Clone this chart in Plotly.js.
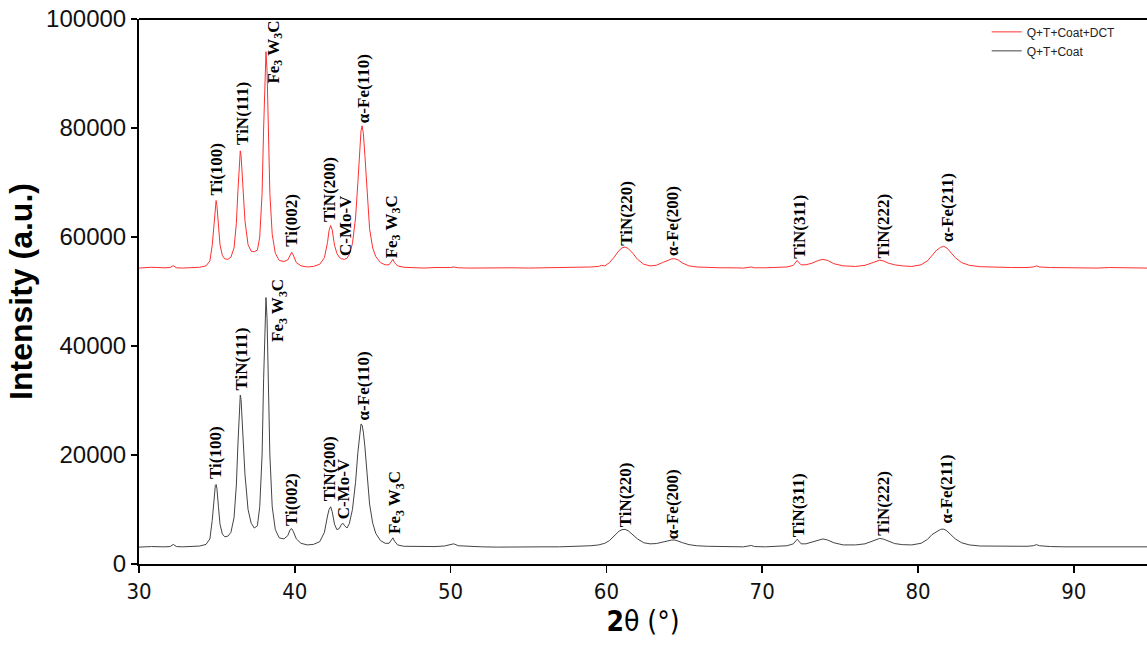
<!DOCTYPE html>
<html>
<head>
<meta charset="utf-8">
<script src="https://cdn.plot.ly/plotly-3.0.1.min.js"></script>
<style>html,body{margin:0;padding:0;background:#fff;}#chart{width:1147px;height:646px;}</style>
</head>
<body>
<div id="chart"></div>
<script>
// 2θ grid (degrees)
const twoTheta = [
  30, 30.8, 31.6, 32.0, 32.2, 32.4, 32.8, 33.4, 33.9, 34.3,
  34.55, 34.7, 34.8, 34.9, 34.95, 35.0, 35.1, 35.2, 35.35, 35.5,
  35.7, 35.9, 36.1, 36.25, 36.35, 36.45, 36.5, 36.55, 36.65, 36.8,
  37.0, 37.2, 37.4, 37.6, 37.75, 37.9, 38.0, 38.08, 38.15, 38.22,
  38.3, 38.4, 38.55, 38.75, 39.0, 39.3, 39.55, 39.7, 39.8, 39.9,
  40.1, 40.4, 40.8, 41.2, 41.6, 41.9, 42.1, 42.2, 42.3, 42.4,
  42.55, 42.7, 42.85, 43.0, 43.1, 43.2, 43.35, 43.5, 43.7, 43.9,
  44.05, 44.15, 44.25, 44.32, 44.4, 44.5, 44.65, 44.8, 45.0, 45.2,
  45.5, 45.8, 46.05, 46.2, 46.3, 46.4, 46.6, 47.0, 47.6, 48.3,
  49.0, 49.6, 50.0, 50.2, 50.5, 51.2, 52.0, 53.0, 54.0, 55.0,
  56.0, 57.0, 58.0, 59.0, 59.5, 59.7, 59.9, 60.2, 60.5, 60.8,
  61.0, 61.2, 61.4, 61.7, 62.0, 62.4, 62.8, 63.2, 63.6, 63.9,
  64.2, 64.4, 64.6, 64.9, 65.3, 65.8, 66.5, 67.3, 68.0, 68.8,
  69.3, 69.5, 70.2, 71.0, 71.6, 72.0, 72.15, 72.25, 72.35, 72.5,
  72.8, 73.2, 73.6, 73.9, 74.2, 74.6, 75.2, 76.0, 76.6, 77.0,
  77.3, 77.55, 77.8, 78.1, 78.5, 79.0, 79.6, 80.2, 80.6, 80.9,
  81.2, 81.45, 81.65, 81.85, 82.1, 82.4, 82.8, 83.3, 84.0, 85.0,
  86.0, 87.0, 87.4, 87.6, 87.8, 88.5, 89.5, 90.5, 91.5, 92.3,
  93.2, 94.0, 94.7
];

// Q+T+Coat+DCT intensity (a.u.)
const intensityDCT = [
  54300, 54450, 54350, 54400, 54750, 54350, 54300, 54400, 54450, 54700,
  55600, 58500, 62500, 66300, 66700, 65800, 62000, 58600, 56600, 56000,
  55900, 56300, 58000, 62500, 68500, 74500, 75800, 75000, 70500, 63000,
  58600, 57400, 57300, 57600, 60000, 68000, 80000, 90000, 94000, 90500,
  80000, 68000, 60500, 57000, 55700, 55500, 55800, 56800, 57200, 56700,
  55300, 54700, 54500, 54600, 55000, 56200, 59000, 61200, 62100, 61300,
  58500, 57000, 56300, 56000, 55900, 55900, 56100, 56800, 58800, 63500,
  70000, 75500, 79500, 80400, 79000, 75000, 67500, 61500, 58000, 56400,
  55300, 54900, 54900, 55500, 55900, 55300, 54700, 54450, 54400, 54300,
  54400, 54350, 54400, 54500, 54350, 54300, 54350, 54300, 54350, 54300,
  54350, 54300, 54400, 54500, 54600, 54800, 54700, 55300, 56300, 57500,
  58000, 58150, 57900, 57000, 55900, 55000, 54700, 54800, 55300, 55700,
  56000, 56000, 55800, 55200, 54700, 54500, 54400, 54350, 54350, 54300,
  54500, 54350, 54350, 54400, 54500, 54800, 55400, 55700, 55300, 54900,
  54900, 55200, 55700, 55900, 55700, 55100, 54700, 54600, 54800, 55200,
  55550, 55750, 55600, 55200, 54900, 54700, 54600, 54900, 55600, 56700,
  57600, 58100, 58300, 58000, 57200, 56200, 55300, 54800, 54550, 54450,
  54400, 54400, 54500, 54700, 54500, 54400, 54350, 54350, 54300, 54400,
  54350, 54350, 54300
];

// Q+T+Coat intensity (a.u.)
const intensityCoat = [
  3100, 3200, 3150, 3200, 3600, 3200, 3150, 3200, 3300, 3600,
  4600, 8000, 11800, 14400, 14600, 13900, 10500, 7300, 5500, 5000,
  5100, 5800, 8500, 14500, 22000, 30000, 31000, 30200, 25000, 16500,
  10000, 7500, 6600, 7000, 10500, 20000, 34000, 45000, 48900, 45000,
  33000, 20000, 10500, 6300, 4800, 4600, 5200, 6300, 6500, 6000,
  4600, 3800, 3500, 3600, 4100, 5800, 8800, 10000, 10500, 9600,
  7300, 6300, 6500, 7300, 7450, 7000, 6600, 7400, 10000, 15000,
  20500, 23800, 25700, 25500, 24200, 21500, 16000, 11000, 7500, 5600,
  4300, 3800, 3800, 4500, 4800, 4200, 3500, 3250, 3200, 3150,
  3200, 3300, 3650, 3700, 3350, 3200, 3150, 3100, 3150, 3100,
  3150, 3150, 3200, 3350, 3500, 3600, 3800, 4300, 5200, 6000,
  6300, 6350, 6100, 5400, 4600, 3900, 3700, 3750, 4000, 4250,
  4400, 4400, 4250, 3900, 3550, 3350, 3250, 3200, 3150, 3150,
  3400, 3200, 3150, 3250, 3350, 3700, 4300, 4550, 4200, 3700,
  3700, 4000, 4400, 4600, 4400, 3900, 3500, 3500, 3700, 4100,
  4500, 4700, 4550, 4150, 3750, 3550, 3500, 3800, 4500, 5400,
  6000, 6350, 6400, 6100, 5400, 4600, 3900, 3500, 3300, 3250,
  3200, 3250, 3350, 3550, 3350, 3200, 3150, 3150, 3100, 3200,
  3150, 3100, 3150
];

const seriesNames = ["Q+T+Coat+DCT", "Q+T+Coat"];

// Peak labels
const FW = "Fe<sub>3</sub> W<sub>3</sub>C";
const peakLabels = ["Ti(100)", "TiN(111)", FW, "Ti(002)", "TiN(200)", "C-Mo-V", "α-Fe(110)", FW,
                    "TiN(220)", "α-Fe(200)", "TiN(311)", "TiN(222)", "α-Fe(211)"];
const labelThetaDCT = [34.97, 36.68, 38.71, 39.79, 42.18, 43.21, 44.38, 46.31, 61.30, 64.29, 72.43, 77.78, 81.85];
const labelIntDCT   = [67400, 76640, 88000, 58030, 62630, 56380, 80620, 55830, 58220, 56380, 55830, 55830, 58950];
const labelThetaCoat = [34.91, 36.58, 39.03, 39.79, 42.25, 43.15, 44.38, 46.53, 61.25, 64.29, 72.32, 77.78, 81.80];
const labelIntCoat   = [15430, 31640, 40590, 6800, 11390, 8080, 26080, 5330, 6610, 4410, 4770, 4960, 7160];

const xTickVals = [30, 40, 50, 60, 70, 80, 90];
const yTickVals = [0, 20000, 40000, 60000, 80000, 100000];

const traces = [
  {x: twoTheta, y: intensityDCT, name: seriesNames[0], type: "scatter", mode: "lines",
   line: {color: "#ff3030", width: 1}},
  {x: twoTheta, y: intensityCoat, name: seriesNames[1], type: "scatter", mode: "lines",
   line: {color: "#444444", width: 1}}
];

const annFont = {family: "Liberation Serif, Times New Roman, serif", size: 17, color: "#000"};
const annotations = [];
function addLabels(xs, ys) {
  for (let i = 0; i < peakLabels.length; i++) {
    annotations.push({x: xs[i], y: ys[i], xref: "x", yref: "y", text: "<b>" + peakLabels[i] + "</b>",
      showarrow: false, textangle: -90, xanchor: "center", yanchor: "bottom", font: annFont, borderpad: 0});
  }
}
addLabels(labelThetaDCT, labelIntDCT);
addLabels(labelThetaCoat, labelIntCoat);

const layout = {
  width: 1147, height: 646,
  margin: {l: 139, r: 0, t: 19, b: 82, pad: 0},
  paper_bgcolor: "#fff", plot_bgcolor: "#fff",
  showlegend: true,
  legend: {x: 0.841, y: 1.003, xanchor: "left", yanchor: "top", bgcolor: "rgba(0,0,0,0)",
           font: {family: "Liberation Sans, Arial, sans-serif", size: 12, color: "#222"}, tracegroupgap: 0},
  xaxis: {
    range: [30, 94.7], tickvals: xTickVals, ticktext: xTickVals.map(String),
    showgrid: false, zeroline: false, showline: true, linecolor: "#000", linewidth: 2,
    mirror: false, ticks: "outside", ticklen: 7, tickwidth: 1.5, tickcolor: "#000",
    tickfont: {family: "Liberation Sans Narrow, DejaVu Sans Condensed, Arial Narrow, sans-serif", size: 22, color: "#111"},
    title: {text: "<b>2</b>θ (°)", standoff: 8,
            font: {family: "Liberation Sans Narrow, DejaVu Sans Condensed, Arial Narrow, sans-serif", size: 28, color: "#000"}}
  },
  yaxis: {
    range: [0, 100000], tickvals: yTickVals, tickformat: "d",
    showgrid: false, zeroline: false, showline: true, linecolor: "#000", linewidth: 2,
    ticks: "outside", ticklen: 6, tickwidth: 1.5, tickcolor: "#000",
    tickfont: {family: "Liberation Sans, Arial, sans-serif", size: 24, color: "#111"},
    title: {text: "<b>Intensity (a.u.)</b>", standoff: 4,
            font: {family: "Liberation Sans, Arial, sans-serif", size: 32, color: "#000"}}
  },
  shapes: [{type: "line", xref: "paper", yref: "paper", x0: 0, x1: 1, y0: 1, y1: 1,
            line: {color: "#000", width: 2}}],
  annotations: annotations
};

Plotly.newPlot("chart", traces, layout, {displayModeBar: false, staticPlot: true});
</script>
</body>
</html>
